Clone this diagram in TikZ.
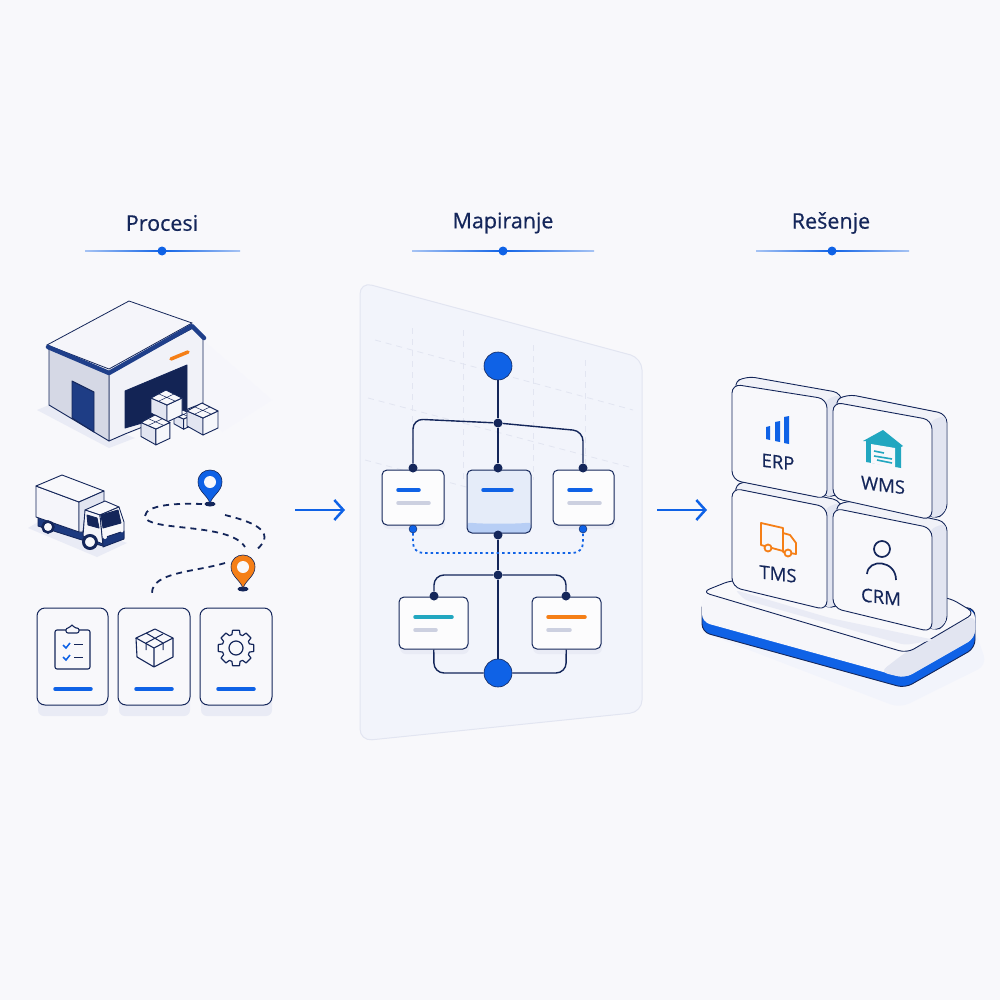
\documentclass[tikz,border=0pt]{standalone}
\usepackage{fontspec}
\setmainfont{Open Sans}[FakeBold=0.5]
\usetikzlibrary{arrows.meta}
\definecolor{pagebg}{HTML}{F8F8FB}
\definecolor{navy}{HTML}{14265A}
\definecolor{inkblue}{HTML}{0F62E6}
\definecolor{roofblue}{HTML}{1F3F8A}
\definecolor{tealc}{HTML}{22A7C0}
\definecolor{orangec}{HTML}{F57F17}
\definecolor{panelc}{HTML}{F2F4FB}
\definecolor{greybar}{HTML}{CCD0E0}
\definecolor{sidec}{HTML}{E2E5F1}
\definecolor{shadec}{HTML}{E9EBF5}
\tikzset{
    outl/.style={draw=navy, line width=0.9pt, line join=round},
    flowline/.style={draw=navy, line width=1.4pt},
    junc/.style={circle, fill=navy, inner sep=0pt, minimum size=9pt},
    bigdot/.style={circle, fill=inkblue, draw=navy, line width=0.6pt, inner sep=0pt, minimum size=28pt},
    bluedot/.style={circle, fill=inkblue, draw=navy, line width=0.4pt, inner sep=0pt, minimum size=8pt},
    flowbox/.style={rectangle, rounded corners=5pt, draw=navy, line width=1pt, fill=white!60!pagebg, inner sep=0pt},
    softshadow/.style={fill=shadec, rounded corners=6pt},
    headline/.style={left color=inkblue!35!pagebg, right color=inkblue!35!pagebg, middle color=inkblue},
    bar/.style={line width=3.5pt, line cap=round},
    cardbox/.style={draw=navy, line width=1pt, rounded corners=8pt, fill=pagebg},
    title/.style={text=navy, font=\fontsize{21.5}{24}\selectfont},
    tilelabel/.style={text=navy, font=\fontsize{18.5}{20}\selectfont, yslant=-0.12},
    routeline/.style={draw=navy, line width=1.8pt, dash pattern=on 6pt off 5pt},
    flowarrow/.style={draw=inkblue, line width=2.5pt, -{Straight Barb[length=9pt,width=20pt,line width=2.5pt]}},
}
\newcommand{\cartonbox}[3]{% x of apex, y of apex, half width
    \begin{scope}[shift={(#1,#2)}, x=#3pt/15, y=-#3pt/15]
        \draw[outl, fill=sidec] (-15,8) -- (1,15) -- (1,32) -- (-15,23) -- cycle;
        \draw[outl, fill=white!70!sidec] (1,15) -- (16,8) -- (16,25) -- (1,32) -- cycle;
        \draw[outl, fill=pagebg] (0,0) -- (16,8) -- (1,15) -- (-15,8) -- cycle;
        \draw[navy, line width=0.5pt] (-7,4) -- (9,11) (8,4) -- (-7,11);
    \end{scope}
}
\newcommand{\tilepiece}[5]{% x, y, width, drop of the top edge, height
    \draw[outl, fill=pagebg!70!sidec, rounded corners=9pt] (#1,#2) -- ({#1+14},{#2-8}) -- ({#1+#3+15},{#2+#4-6}) -- ({#1+#3+15},{#2+#4+#5-7}) -- ({#1+#3},{#2+#4+#5}) -- cycle;
    \fill[sidec, rounded corners=6pt] ({#1+#3-2},{#2+#4+1}) -- ({#1+#3+14},{#2+#4-5}) -- ({#1+#3+14},{#2+#4+#5-8}) -- ({#1+#3-2},{#2+#4+#5-1}) -- cycle;
    \draw[outl, fill=pagebg, rounded corners=9pt] (#1,#2) -- ({#1+#3},{#2+#4}) -- ({#1+#3},{#2+#4+#5}) -- (#1,{#2+#5-4}) -- cycle;
}
\newcommand{\mappin}[3]{% x of tip, y of tip, colour
    \fill[navy] (#1,#2+1) ellipse (5.5pt and 2.5pt);
    \draw[navy, line width=0.6pt, fill=#3] (#1,#2) .. controls (#1-3,#2-8) and (#1-12,#2-12) .. (#1-12,#2-21) .. controls (#1-12,#2-37) and (#1+12,#2-37) .. (#1+12,#2-21) .. controls (#1+12,#2-12) and (#1+3,#2-8) .. (#1,#2) -- cycle;
    \fill[pagebg] (#1,#2-21) circle (6pt);
}
\begin{document}
\begin{tikzpicture}[x=1pt, y=-1pt]
    \useasboundingbox (0,0) rectangle (1000,1000);
    \fill[pagebg] (0,0) rectangle (1000,1000);

    % column heads
    \node[title] (procesi) at (162,223) {Procesi};
    \node[title] (mapiranje) at (503,223) {Mapiranje};
    \node[title] (resenje) at (831,223) {Rešenje};
    \shade[headline] (85,250.4) rectangle (240,251.6);
    \shade[headline] (412,250.4) rectangle (594,251.6);
    \shade[headline] (756,250.4) rectangle (909,251.6);
    \fill[inkblue] (162,251) circle (4.5pt);
    \fill[inkblue] (503,251) circle (4.5pt);
    \fill[inkblue] (832,251) circle (4.5pt);

    % warehouse
    \fill[pagebg!60!panelc] (203,340) -- (272,400) -- (222,432) -- (203,400) -- cycle;
    \fill[shadec] (49,405) -- (37,410) -- (109,448) -- (135,438) -- cycle;
    \draw[outl, fill=pagebg!70!sidec] (109,373) -- (193,328) -- (203,339) -- (203,403) -- (125,434) -- (109,441) -- cycle;
    \draw[outl, fill=greybar!80!pagebg] (49,348) -- (109,373) -- (109,441) -- (49,405) -- cycle;
    \draw[outl, fill=roofblue!90!navy] (72,381) -- (94,392) -- (94,432) -- (72,418) -- cycle;
    \draw[outl, fill=navy!95!black] (125,391) -- (187,365) -- (187,410) -- (125,428) -- cycle;
    \draw[navy, line width=0.8pt, fill=pagebg!85!sidec] (47,345) -- (129,301) -- (192,323) -- (109,369) -- cycle;
    \draw[roofblue, line width=4.5pt, line join=round, line cap=round] (48,347) -- (109,373) -- (192,326) -- (204,338);
    \draw[orangec, line width=3.5pt, line cap=round] (171,359) -- (188,352);
    \cartonbox{183}{410}{9}
    \cartonbox{202}{403}{15}
    \cartonbox{166}{390}{15}
    \cartonbox{155}{415}{14}

    % truck
    \fill[shadec] (28,528) -- (50,515) -- (127,543) -- (97,557) -- cycle;
    \draw[outl, fill=roofblue!80!navy] (38,516) -- (82,532) -- (103,540) -- (103,546) -- (82,540) -- (38,526) -- cycle;
    \draw[outl, fill=pagebg!85!sidec] (36,486) -- (79,502) -- (79,532) -- (36,517) -- cycle;
    \draw[outl, fill=pagebg] (36,486) -- (62,475) -- (104,491) -- (79,502) -- cycle;
    \draw[outl, fill=sidec] (79,502) -- (104,491) -- (104,507) -- (85,515) -- (83,532) -- (79,532) -- cycle;
    \draw[outl, fill=pagebg] (85,510) -- (105,501) -- (119,507) -- (100,515) -- cycle;
    \draw[outl, fill=pagebg!80!sidec] (85,510) -- (100,515) -- (103,544) -- (83,536) -- cycle;
    \draw[outl, fill=pagebg] (100,515) -- (119,507) -- (124,522) -- (124,538) -- (103,546) -- cycle;
    \draw[outl, fill=navy] (101,515) -- (118,510) -- (121,523) -- (103,528) -- cycle;
    \draw[outl, fill=navy] (87,515) -- (97,518) -- (99,528) -- (88,525) -- cycle;
    \draw[outl, fill=roofblue!70!navy] (103,538) -- (124,531) -- (124,539) -- (103,547) -- cycle;
    \fill[pagebg] (105,537) circle (2pt) (122,531) circle (1.6pt);
    \draw[navy, line width=2.5pt, fill=pagebg] (48,527) circle (5.5pt);
    \draw[navy, line width=3pt, fill=pagebg] (90,542) circle (6.5pt);

    % route
    \coordinate (routea) at (202,504);
    \coordinate (routeb) at (145,516);
    \coordinate (routec) at (245,547);
    \coordinate (routed) at (225,515);
    \coordinate (routee) at (255,551);
    \coordinate (routef) at (225,563);
    \coordinate (routeg) at (152,593);
    \draw[routeline] (routea) .. controls (175,503) and (146,505) .. (routeb) .. controls (145,532) and (230,522) .. (routec);
    \draw[routeline] (routed) .. controls (245,520) and (282,530) .. (routee);
    \draw[routeline] (routef) .. controls (195,572) and (152,572) .. (routeg);
    \mappin{210}{503}{inkblue}
    \mappin{243}{588}{orangec}

    % cards
    \fill[softshadow] (38,660) rectangle (108,716);
    \fill[softshadow] (119,660) rectangle (190,716);
    \fill[softshadow] (201,660) rectangle (272,716);
    \draw[cardbox] (37,608) rectangle (108,705);
    \draw[cardbox] (118,608) rectangle (190,705);
    \draw[cardbox] (200,608) rectangle (272,705);
    \draw[bar, inkblue] (55,689) -- (91,689);
    \draw[bar, inkblue] (136,689) -- (172,689);
    \draw[bar, inkblue] (218,689) -- (254,689);
    % clipboard
    \draw[navy, line width=1.1pt, rounded corners=2pt] (55,630) rectangle (90,669);
    \draw[navy, line width=1.1pt, fill=pagebg, rounded corners=2pt] (66,633) -- (66,628) -- (70,628) -- (72,624) -- (74,628) -- (79,628) -- (79,633) -- cycle;
    \draw[inkblue, line width=1.5pt] (63,645) -- (66,648) -- (70,643);
    \draw[inkblue, line width=1.5pt] (63,657) -- (66,660) -- (70,655);
    \draw[navy, line width=1pt] (74,644.5) -- (83,644.5) (74,657) -- (83,657);
    % parcel
    \draw[navy, line width=1.1pt, line join=round] (155,629) -- (173,638) -- (154,648) -- (136,638) -- cycle;
    \draw[navy, line width=1.1pt, line join=round] (136,638) -- (137,657) -- (154,667) -- (173,657) -- (173,638) (154,648) -- (154,667);
    \draw[navy, line width=1pt] (146,633) -- (163,643) -- (163,650) (163,634) -- (146,643) -- (146,650);
    % gear
    \draw[navy, line width=1.2pt, line join=round, shift={(236,648)}] (11:18)
        \foreach \ang in {0,45,...,315} { -- (\ang+11:18) -- (\ang+17:14) -- (\ang+28:14) -- (\ang+34:18)} -- cycle;
    \draw[navy, line width=1.2pt] (236,648) circle (7pt);

    % panel
    \draw[draw=sidec, fill=panelc, line width=1pt, rounded corners=12pt] (360,282) -- (642,358) -- (642,712) -- (360,741) -- cycle;
    \draw[sidec, line width=0.8pt, dash pattern=on 6pt off 5pt] (375,340) -- (633,410) (368,398) -- (633,468) (365,460) -- (470,488);
    \draw[sidec, line width=0.8pt, dash pattern=on 6pt off 5pt] (412,328) -- (412,480) (463,330) -- (463,480) (533,345) -- (533,480) (585,360) -- (585,470);

    % flow chart
    \fill[softshadow] (383,474) rectangle (445,529);
    \fill[softshadow] (400,601) rectangle (469,654);
    \fill[softshadow] (533,601) rectangle (602,654);
    \fill[softshadow] (554,474) rectangle (615,529);
    \fill[inkblue!8!pagebg, rounded corners=5pt] (467,470) rectangle (531,533);
    \fill[inkblue!28!pagebg, rounded corners=5pt] (467,521) .. controls (475,524) and (523,524) .. (531,521) -- (531,533) -- (467,533) -- cycle;
    \node[flowbox, minimum width=62pt, minimum height=55pt] (boxleft) at (413,497.5) {};
    \node[flowbox, minimum width=64pt, minimum height=63pt, fill=none] (boxmid) at (499,501.5) {};
    \node[flowbox, minimum width=61pt, minimum height=55pt] (boxright) at (583.5,497.5) {};
    \node[flowbox, minimum width=69pt, minimum height=52pt] (boxlow) at (433.5,623) {};
    \node[flowbox, minimum width=69pt, minimum height=52pt] (boxlor) at (566.5,623) {};
    \draw[bar, inkblue] (398,490) -- (419,490);
    \draw[bar, greybar] (398,503) -- (429,503);
    \draw[bar, inkblue] (483,490) -- (512,490);
    \draw[bar, inkblue] (569,490) -- (591,490);
    \draw[bar, greybar] (569,503) -- (600,503);
    \draw[bar, tealc] (415,617) -- (452,617);
    \draw[bar, greybar] (415,630) -- (436,630);
    \draw[bar, orangec] (548,617) -- (585,617);
    \draw[bar, greybar] (548,630) -- (570,630);

    \node[bigdot] (starten) at (498,366) {};
    \node[bigdot] (endn) at (498,673) {};
    \node[junc] (splita) at (498,423) {};
    \node[junc] (splitb) at (498,575) {};
    \node[junc] (topleft) at (413,468) {};
    \node[junc] (topmid) at (498,468) {};
    \node[junc] (topright) at (583,468) {};
    \node[junc] (midout) at (498,535) {};
    \node[junc] (lowleft) at (434,596) {};
    \node[junc] (lowright) at (566,596) {};
    \node[bluedot] (outleft) at (413,529) {};
    \node[bluedot] (outright) at (583,529) {};
    \coordinate (cornera) at (413,419);
    \coordinate (cornerb) at (583,431);
    \coordinate (cornerc) at (434,575);
    \coordinate (cornerd) at (566,575);
    \coordinate (cornere) at (413,553);
    \coordinate (cornerf) at (583,553);
    \coordinate (cornerg) at (434,673);
    \coordinate (cornerh) at (566,673);

    \draw[flowline] (starten) -- (splita);
    \draw[flowline] (splita) -- (topmid);
    \draw[flowline, rounded corners=10pt] (splita) -- (cornera) -- (topleft);
    \draw[flowline, rounded corners=10pt] (splita) -- (cornerb) -- (topright);
    \draw[flowline] (midout) -- (splitb);
    \draw[flowline, rounded corners=10pt] (splitb) -- (cornerc) -- (lowleft);
    \draw[flowline, rounded corners=10pt] (splitb) -- (cornerd) -- (lowright);
    \draw[flowline] (splitb) -- (endn);
    \draw[flowline, rounded corners=10pt] (boxlow) -- (cornerg) -- (endn);
    \draw[flowline, rounded corners=10pt] (boxlor) -- (cornerh) -- (endn);
    \draw[draw=inkblue, line width=1.8pt, dash pattern=on 2.5pt off 3pt, rounded corners=10pt] (outleft) -- (cornere) -- (cornerf) -- (outright);

    % arrows
    \coordinate (arrowa) at (295,510);
    \coordinate (arrowb) at (345,510);
    \coordinate (arrowc) at (657,510);
    \coordinate (arrowd) at (707,510);
    \draw[flowarrow] (arrowa) -- (arrowb);
    \draw[flowarrow] (arrowc) -- (arrowd);

    % platform
    \fill[panelc, rounded corners=10pt] (697,630) -- (900,708) -- (987,665) -- (975,630) -- cycle;
    \draw[outl, fill=inkblue, rounded corners=8pt] (702,600) -- (702,632) -- (905,688) -- (975,648) -- (975,608) -- cycle;
    \fill[pagebg!90!sidec, rounded corners=8pt] (702,595) -- (702,622) -- (905,678) -- (975,638) -- (975,610) -- cycle;
    \fill[sidec, rounded corners=8pt] (906,652) -- (975,615) -- (975,638) -- (905,678) -- (880,672) -- cycle;
    \draw[outl, fill=pagebg, rounded corners=8pt] (702,592) -- (732,580) -- (950,598) -- (975,613) -- (907,653) -- cycle;
    \fill[shadec, rounded corners=4pt] (735,590) -- (830,618) -- (935,640) -- (905,645) -- (745,600) -- cycle;

    % tiles
    \tilepiece{732}{488}{95}{19}{103}
    \tilepiece{833}{508}{99}{20}{104}
    \tilepiece{732}{384}{95}{15}{100}
    \tilepiece{833}{402}{99}{18}{100}

    \node[tilelabel] (erp) at (778,462) {ERP};
    \node[tilelabel] (wms) at (883,485) {WMS};
    \node[tilelabel] (tms) at (778,574) {TMS};
    \node[tilelabel] (crm) at (881,597) {CRM};

    % tile icons
    \fill[inkblue] (766,427) -- (770,426) -- (770,440) -- (766,439) -- cycle;
    \fill[inkblue] (775,422) -- (780,421) -- (780,442) -- (775,441) -- cycle;
    \fill[inkblue] (784,417) -- (789,416) -- (789,444) -- (784,443) -- cycle;
    \fill[tealc] (883,430) -- (903,446) -- (901,447) -- (901,468) -- (866,462) -- (866,441) -- (863,441) -- cycle;
    \fill[pagebg] (871,444) -- (895,448) -- (895,468) -- (871,463) -- cycle;
    \draw[tealc, line width=1.6pt] (874,451) -- (884,453) (874,456) -- (892,459) (877,460) -- (892,463);
    \draw[orangec, line width=1.8pt, line join=round, fill=pagebg] (761,523) -- (783,528) -- (783,551) -- (761,545) -- cycle;
    \draw[orangec, line width=1.8pt, line join=round, fill=pagebg] (783,533) -- (790,535) -- (796,543) -- (796,554) -- (783,552) -- cycle;
    \draw[orangec, line width=1.8pt, fill=pagebg] (768,548) circle (3.5pt) (788,553) circle (3.5pt);
    \draw[navy, line width=1.7pt] (882,549) circle (8pt);
    \draw[navy, line width=1.7pt] (867,574) .. controls (868,558) and (896,560) .. (896,580);
\end{tikzpicture}
\end{document}
